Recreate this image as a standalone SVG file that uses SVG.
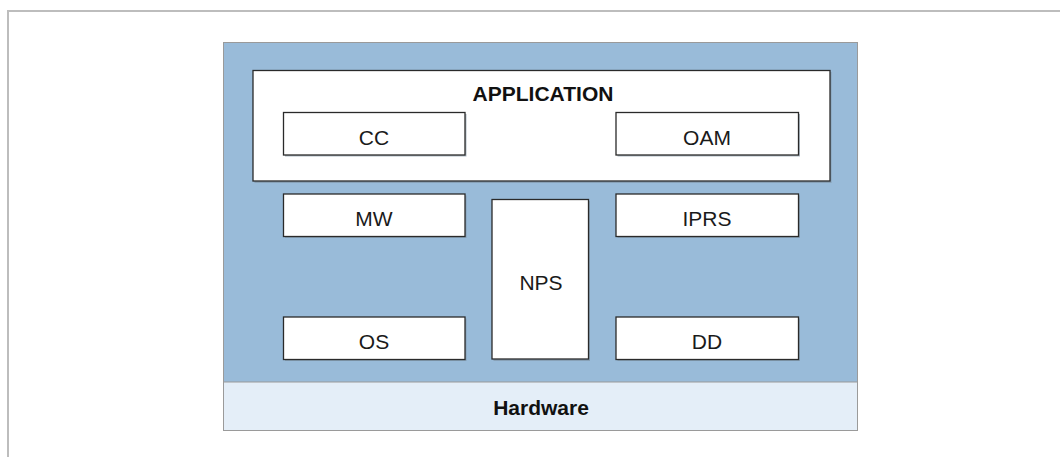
<svg xmlns="http://www.w3.org/2000/svg" width="1060" height="457" viewBox="0 0 1060 457">
  <style>
    .frame { fill: #ffffff; stroke: #bdbdbd; stroke-width: 2; }
    .stack { fill: #99bbd9; stroke: #9a9a9a; stroke-width: 1; }
    .hw { fill: #e4eef8; stroke: #9a9a9a; stroke-width: 1; }
    .box { fill: #ffffff; stroke: #2a2a2a; stroke-width: 1.3; }
    .shadow { fill: #7d8fa0; opacity: 0.6; }
    .lbl { font-family: "Liberation Sans", Arial, sans-serif; font-size: 21px; fill: #1a1a1a; text-anchor: middle; }
    .bold { font-weight: bold; fill: #111111; }
  </style>

  <!-- page frame -->
  <rect class="frame" x="8" y="11" width="1070" height="460"/>

  <!-- software stack and hardware base -->
  <g id="stack">
    <rect class="stack" x="223.5" y="42.5" width="634" height="340"/>
  </g>
  <g id="hardware">
    <rect class="hw" x="223.5" y="382" width="634" height="48.5"/>
    <text class="lbl bold" x="541" y="415">Hardware</text>
  </g>

  <!-- application layer -->
  <g id="application">
    <rect class="shadow" x="254.5" y="72" width="577" height="111"/>
    <rect class="box" x="253" y="70.5" width="577" height="110.5"/>
    <text class="lbl bold" x="543" y="101">APPLICATION</text>
  </g>
  <g id="cc">
    <rect class="shadow" x="285" y="114" width="181.5" height="42.5"/>
    <rect class="box" x="283.5" y="112.5" width="181.5" height="42.5"/>
    <text class="lbl" x="374" y="145">CC</text>
  </g>
  <g id="oam">
    <rect class="shadow" x="617.5" y="114" width="182.5" height="42.5"/>
    <rect class="box" x="616" y="112.5" width="182.5" height="42.5"/>
    <text class="lbl" x="707" y="145">OAM</text>
  </g>

  <!-- middle layer -->
  <g id="mw">
    <rect class="shadow" x="285" y="195.5" width="181.5" height="42.5"/>
    <rect class="box" x="283.5" y="194" width="181.5" height="42.5"/>
    <text class="lbl" x="374" y="225.5">MW</text>
  </g>
  <g id="iprs">
    <rect class="shadow" x="617.5" y="195.5" width="182.5" height="42.5"/>
    <rect class="box" x="616" y="194" width="182.5" height="42.5"/>
    <text class="lbl" x="707" y="225.5">IPRS</text>
  </g>
  <g id="nps">
    <rect class="shadow" x="493.5" y="201" width="96.5" height="160"/>
    <rect class="box" x="492" y="199.5" width="96.5" height="159.5"/>
    <text class="lbl" x="541" y="290">NPS</text>
  </g>

  <!-- lower layer -->
  <g id="os">
    <rect class="shadow" x="285" y="318.5" width="181.5" height="42.5"/>
    <rect class="box" x="283.5" y="317" width="181.5" height="42.5"/>
    <text class="lbl" x="374" y="348.5">OS</text>
  </g>
  <g id="dd">
    <rect class="shadow" x="617.5" y="318.5" width="182.5" height="42.5"/>
    <rect class="box" x="616" y="317" width="182.5" height="42.5"/>
    <text class="lbl" x="707" y="348.5">DD</text>
  </g>

  <!-- no connectors in this diagram -->
  <g id="connectors"/>
</svg>
